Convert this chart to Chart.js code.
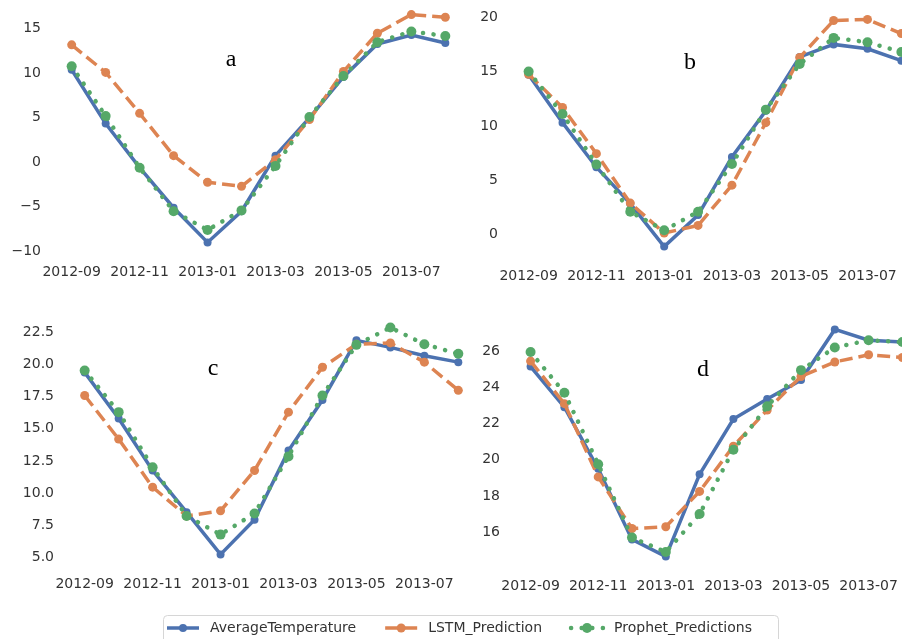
<!DOCTYPE html>
<html><head><meta charset="utf-8">
<script src="https://cdn.jsdelivr.net/npm/chart.js@4.4.0/dist/chart.umd.min.js"></script>
<style>
html,body{margin:0;padding:0;background:#fff;}
#wrap{position:relative;width:902px;height:639px;overflow:hidden;background:#fff;}
canvas{position:absolute;}
</style></head><body>
<div id="wrap">
<canvas id="ca" width="461" height="281" style="left:3px;top:3px"></canvas>
<canvas id="cb" width="460" height="280" style="left:460px;top:8px"></canvas>
<canvas id="cc" width="461" height="280" style="left:16px;top:316px"></canvas>
<canvas id="cd" width="459" height="280" style="left:462px;top:318px"></canvas>
<canvas id="cl" width="902" height="39" style="left:0px;top:600px"></canvas>
</div>
<script>
// ---- data ----
const months = ['2012-09','2012-10','2012-11','2012-12','2013-01','2013-02','2013-03','2013-04','2013-05','2013-06','2013-07','2013-08'];
const xTickIdx = [0,2,4,6,8,10];
const seriesNames = ['AverageTemperature','LSTM_Prediction','Prophet_Predictions'];

const avgA     = [10.4, 4.35, -0.6, -5.1, -9.0, -5.5, 0.75, 5.0, 9.6, 13.3, 14.3, 13.4];
const lstmA    = [13.2, 10.1, 5.5, 0.75, -2.25, -2.7, 0.3, 4.8, 10.2, 14.5, 16.6, 16.3];
const prophetA = [10.8, 5.2, -0.6, -5.5, -7.6, -5.4, -0.4, 5.1, 9.7, 13.5, 14.7, 14.2];

const avgB     = [14.7, 10.3, 6.2, 2.85, -1.1, 1.8, 7.15, 11.4, 16.35, 17.5, 17.1, 16.0];
const lstmB    = [14.75, 11.7, 7.45, 2.9, 0.15, 0.85, 4.55, 10.3, 16.3, 19.7, 19.8, 18.5];
const prophetB = [15.0, 11.1, 6.45, 2.1, 0.4, 2.1, 6.5, 11.5, 15.7, 18.1, 17.7, 16.8];

const avgC     = [19.4, 15.8, 11.75, 8.5, 5.2, 7.9, 13.3, 17.25, 21.9, 21.35, 20.7, 20.2];
const lstmC    = [17.6, 14.2, 10.45, 8.2, 8.6, 11.75, 16.3, 19.8, 21.6, 21.7, 20.2, 18.0];
const prophetC = [19.55, 16.3, 12.0, 8.2, 6.75, 8.4, 12.85, 17.6, 21.55, 22.9, 21.6, 20.85];

const avgD     = [25.15, 22.9, 19.5, 15.6, 14.65, 19.2, 22.25, 23.35, 24.4, 27.2, 26.6, 26.5];
const lstmD    = [25.45, 23.1, 19.05, 16.2, 16.3, 18.25, 20.75, 22.75, 24.6, 25.4, 25.8, 25.65];
const prophetD = [25.95, 23.7, 19.75, 15.7, 14.9, 17.0, 20.55, 22.95, 24.95, 26.2, 26.6, 26.5];

const yTicksA = [-10, -5, 0, 5, 10, 15];
const yTicksB = [0, 5, 10, 15, 20];
const yTicksC = [5, 7.5, 10, 12.5, 15, 17.5, 20, 22.5];
const yTicksD = [16, 18, 20, 22, 24, 26];
const panelLetters = ['a', 'b', 'c', 'd'];

// ---- styles ----
const styles = [
  {color:'#4c72b0', dash:[], width:3.5, radius:4, cap:'butt'},
  {color:'#dd8452', dash:[13,6], width:3.5, radius:4.5, cap:'butt'},
  {color:'#55a868', dash:[0.1,10.5], width:4.5, radius:5, cap:'round'}
];
const tickFont = {family:'"DejaVu Sans"', size:14};
const tickColor = '#333';

const letterPlugin = {
  id:'panelLetter',
  afterDraw(chart, args, opts){
    const a = chart.chartArea, ctx = chart.ctx;
    ctx.save();
    ctx.font = '24px "Liberation Serif"';
    ctx.fillStyle = '#000';
    ctx.textAlign = 'center';
    ctx.textBaseline = 'alphabetic';
    ctx.fillText(opts.text, a.left + opts.fx*(a.right-a.left), a.top + opts.fy*(a.bottom-a.top));
    ctx.restore();
  }
};

function zeroPad(s){ s.paddingTop = 0; s.paddingBottom = 0; s.paddingLeft = 0; s.paddingRight = 0; }

function makePanel(id, series, yMin, yMax, yTicks, decimals, letter, fx, fy){
  new Chart(document.getElementById(id), {
    type:'line',
    data:{datasets: series.map((arr,k)=>({
      label: seriesNames[k],
      data: arr.map((v,i)=>({x:i, y:v})),
      borderColor: styles[k].color,
      backgroundColor: styles[k].color,
      borderWidth: styles[k].width,
      borderDash: styles[k].dash,
      borderCapStyle: styles[k].cap,
      pointRadius: styles[k].radius,
      pointBorderWidth: 0,
      pointBackgroundColor: styles[k].color,
      tension: 0,
      fill: false,
      clip: false,
      order: 3-k
    }))},
    options:{
      responsive:false, animation:false, events:[],
      layout:{padding:0, autoPadding:false},
      plugins:{legend:{display:false}, tooltip:{enabled:false},
        panelLetter:{text:letter, fx:fx, fy:fy}},
      scales:{
        x:{type:'linear', min:-0.55, max:11.55,
          grid:{display:false, drawTicks:false}, border:{display:false},
          afterBuildTicks: s => { s.ticks = xTickIdx.map(v=>({value:v})); },
          afterFit: s => { s.height = 30; zeroPad(s); },
          ticks:{padding:10, font:tickFont, color:tickColor, maxRotation:0, autoSkip:false,
            callback: v => months[v]}},
        y:{type:'linear', min:yMin, max:yMax,
          grid:{display:false, drawTicks:false}, border:{display:false},
          afterBuildTicks: s => { s.ticks = yTicks.map(v=>({value:v})); },
          afterFit: s => { s.width = 50; zeroPad(s); },
          ticks:{padding:12, font:tickFont, color:tickColor,
            callback: v => (v<0?'\u2212':'') + Math.abs(v).toFixed(decimals)}}
      }
    },
    plugins:[letterPlugin]
  });
}

makePanel('ca', [avgA, lstmA, prophetA], -10.3, 17.9, yTicksA, 0, panelLetters[0], 0.433, 0.251);
makePanel('cb', [avgB, lstmB, prophetB], -2.15, 20.85, yTicksB, 0, panelLetters[1], 0.439, 0.244);
makePanel('cc', [avgC, lstmC, prophetC], 4.3, 23.8, yTicksC, 1, panelLetters[2], 0.358, 0.236);
makePanel('cd', [avgD, lstmD, prophetD], 14.02, 27.83, yTicksD, 0, panelLetters[3], 0.467, 0.232);

// ---- legend ----
const legendPlugin = {
  id:'figLegend',
  afterDraw(chart){
    const ctx = chart.ctx;
    ctx.save();
    ctx.clearRect(0,0,chart.width,chart.height);
    ctx.fillStyle='#fff';
    ctx.fillRect(0,0,chart.width,chart.height);
    ctx.strokeStyle = '#d6d6d6';
    ctx.lineWidth = 1;
    ctx.beginPath();
    ctx.roundRect(163.5, 15.5, 615, 40, 4);
    ctx.stroke();
    const yc = 28;
    let x = 167;
    ctx.font = '14px "DejaVu Sans"';
    ctx.textBaseline = 'middle';
    ctx.textAlign = 'left';
    chart.data.datasets.forEach((ds,k)=>{
      const st = styles[k];
      ctx.setLineDash(st.dash);
      ctx.lineCap = st.cap;
      ctx.lineWidth = st.width;
      ctx.strokeStyle = st.color;
      ctx.beginPath();
      ctx.moveTo(x, yc); ctx.lineTo(x+32, yc);
      ctx.stroke();
      ctx.setLineDash([]);
      ctx.fillStyle = st.color;
      ctx.beginPath();
      ctx.arc(x+16, yc, st.radius, 0, Math.PI*2);
      ctx.fill();
      ctx.fillStyle = '#333';
      ctx.fillText(ds.label, x+43, yc);
      x += 43 + ctx.measureText(ds.label).width + 29;
    });
    ctx.restore();
  }
};
new Chart(document.getElementById('cl'), {
  type:'line',
  data:{labels:[], datasets: seriesNames.map((n,k)=>({label:n, data:[], borderColor:styles[k].color}))},
  options:{responsive:false, animation:false, events:[],
    plugins:{legend:{display:false}, tooltip:{enabled:false}},
    scales:{x:{display:false}, y:{display:false}}},
  plugins:[legendPlugin]
});
</script>
</body></html>
